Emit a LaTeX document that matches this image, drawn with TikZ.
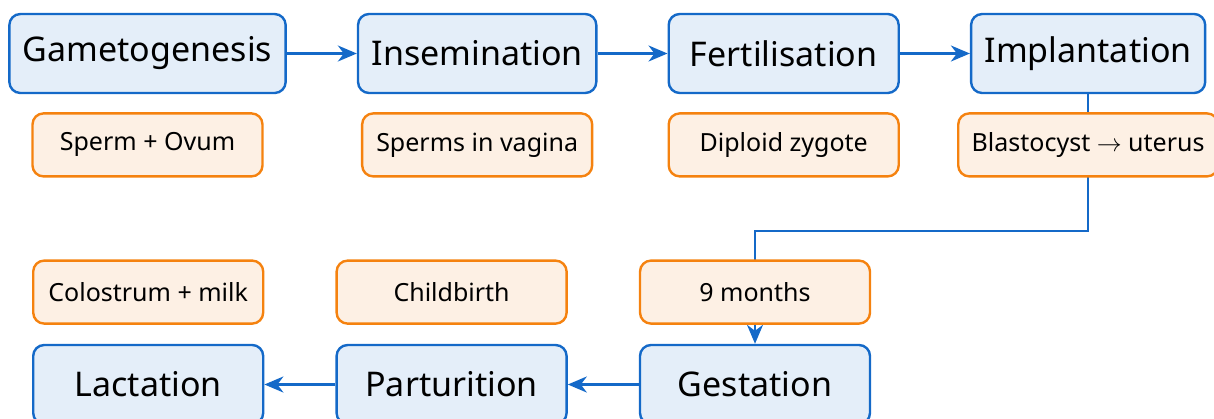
\documentclass[tikz,border=0pt]{standalone}
\usepackage{fontspec}
\setmainfont{Noto Sans}
\usetikzlibrary{arrows.meta, positioning, backgrounds}

\definecolor{stageblue}{HTML}{1469C8}
\definecolor{stagefill}{HTML}{E4EEF9}
\definecolor{noteorange}{HTML}{F5820F}
\definecolor{notefill}{HTML}{FDF0E4}

\begin{document}
\begin{tikzpicture}[
    x=1pt, y=1pt,
    node distance=18pt and 70pt,
    stage/.style={draw=stageblue, fill=stagefill, line width=2.4pt, rounded corners=11pt,
        align=center, minimum width=230pt, minimum height=79pt, inner xsep=13.5pt,
        font=\fontsize{34}{40}\selectfont},
    note/.style={draw=noteorange, fill=notefill, line width=2.4pt, rounded corners=11pt,
        align=center, minimum width=230pt, minimum height=63pt, inner xsep=13.5pt,
        font=\fontsize{25}{30}\selectfont},
    arrow/.style={-{Stealth[length=19pt, width=16pt, inset=6pt]}, draw=stageblue, line width=2.4pt}
]
\useasboundingbox (0,0) rectangle (1214,-418);

% top row
\node[stage] (gamete) at (147.5,-53.5) {Gametogenesis};
\node[stage, right=of gamete] (insem) {Insemination};
\node[stage, right=of insem] (fertil) {Fertilisation};
\node[stage, right=of fertil] (implant) {Implantation};

\node[note, below=of gamete] (sperm) {Sperm + Ovum};
\node[note, below=of insem] (vagina) {Sperms in vagina};
\node[note, below=of fertil] (zygote) {Diploid zygote};
\node[note, below=of implant] (blasto) {Blastocyst $\rightarrow$ uterus};

% bottom row
\node[stage] (gestat) at (755,-384.5) {Gestation};
\node[stage, left=71pt of gestat] (partu) {Parturition};
\node[stage, left=71pt of partu] (lacta) {Lactation};

\node[note, above=19pt of gestat] (months) {9 months};
\node[note, above=19pt of partu] (birth) {Childbirth};
\node[note, above=19pt of lacta] (milk) {Colostrum + milk};

\draw[arrow] (gamete) -- (insem);
\draw[arrow] (insem) -- (fertil);
\draw[arrow] (fertil) -- (implant);
\draw[arrow] (gestat) -- (partu);
\draw[arrow] (partu) -- (lacta);
\begin{scope}[on background layer]
\draw[arrow] (implant.south) -- ++(0,-137) -| (gestat.north);
\end{scope}
\end{tikzpicture}
\end{document}
